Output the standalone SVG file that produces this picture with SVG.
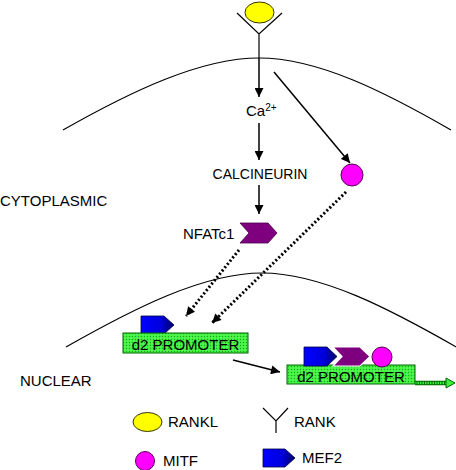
<svg xmlns="http://www.w3.org/2000/svg" width="456" height="470" viewBox="0 0 456 470">
<defs>
<style>
text{font-family:"Liberation Sans",Arial,sans-serif;font-size:15px;fill:#000}
.mem{fill:none;stroke:#000;stroke-width:1.2}
.arr{fill:none;stroke:#000;stroke-width:1.5;marker-end:url(#ah)}
.dot{fill:none;stroke:#000;stroke-width:3;stroke-dasharray:2 2.2;marker-end:url(#ah)}
.rankl{fill:#FFFF00;stroke:#333300;stroke-width:1}
.mitf{fill:#FF00FF;stroke:#550055;stroke-width:1}
.rank{fill:none;stroke:#000;stroke-width:1.2}
.nfat{fill:#7F007F;stroke:#4A004A;stroke-width:0.8}
.mef2{fill:url(#blue);stroke:#000044;stroke-width:0.8}
.prom{fill:url(#chk);stroke:#006600;stroke-width:1}
</style>
<marker id="ah" viewBox="0 0 10 10" refX="10" refY="5" markerWidth="10" markerHeight="9" markerUnits="userSpaceOnUse" orient="auto"><path d="M0,0 L10,5 L0,10 z" fill="#000"/></marker>
<linearGradient id="blue" x1="0" y1="0" x2="1" y2="0"><stop offset="0" stop-color="#0000FF"/><stop offset="0.6" stop-color="#0000DD"/><stop offset="1" stop-color="#000066"/></linearGradient>
<pattern id="chk" width="3" height="3" patternUnits="userSpaceOnUse"><rect width="3" height="3" fill="#3CF03C"/><rect width="1" height="1" fill="#1FA51F"/><rect x="1.5" y="1.5" width="1" height="1" fill="#8CFF8C"/></pattern>
</defs>
<rect width="456" height="470" fill="#fff"/>
<g id="membranes">
<path class="mem" d="M63,130 C130,92 200,58 259,58 C318,58 385,92 451,130"/>
<path class="mem" d="M66,347 C133,309 203,273 262,273 C321,273 390,309 458,348"/>
</g>
<g id="labels">
<text x="0" y="206">CYTOPLASMIC</text>
<text x="20" y="386">NUCLEAR</text>
</g>
<g id="connectors">
<line class="arr" x1="259" y1="58" x2="259" y2="97"/>
<line class="arr" x1="259" y1="123" x2="259" y2="160"/>
<line class="arr" x1="259" y1="185" x2="259" y2="214"/>
<line class="arr" x1="274" y1="72" x2="350" y2="163"/>
<line class="arr" x1="233" y1="360" x2="280" y2="372"/>
<line class="dot" x1="239" y1="250" x2="186" y2="316"/>
<line class="dot" x1="346" y1="192" x2="212" y2="323"/>
</g>
<g id="rankl"><ellipse class="rankl" cx="259.5" cy="12.5" rx="14.5" ry="10.5"/></g>
<g id="rank"><path class="rank" d="M237,13 L259,34 L282,13 M259,34 L259,58"/></g>
<g id="ca"><text x="246" y="116">Ca<tspan font-size="10" dy="-5">2+</tspan></text></g>
<g id="calcineurin"><text x="260" y="179" text-anchor="middle" style="font-size:14px">CALCINEURIN</text></g>
<g id="nfatc1">
<text x="183" y="239">NFATc1</text>
<polygon class="nfat" points="240,223 268,223 277,233 268,243 240,243 249,233"/>
</g>
<g id="mitf"><circle class="mitf" cx="352" cy="175" r="11"/></g>
<g id="promoter1">
<polygon class="mef2" points="141,316 164,316 174,325 164,334 141,334"/>
<rect class="prom" x="123" y="333" width="125" height="20"/>
<text x="185.5" y="350" text-anchor="middle">d2 PROMOTER</text>
</g>
<g id="promoter2">
<path d="M415,383 L448,383" stroke="#006600" stroke-width="4.5" fill="none"/>
<path d="M415,383 L448,383" stroke="#3CF03C" stroke-width="2.5" stroke-dasharray="1.5 1" fill="none"/>
<polygon points="446,378 455,383 446,388" fill="#3CF03C" stroke="#006600" stroke-width="1"/>
<rect class="prom" x="287" y="365" width="128" height="19"/>
<text x="351" y="382" text-anchor="middle">d2 PROMOTER</text>
<polygon class="mef2" points="304,347 327,347 337,356.5 327,366 304,366"/>
<polygon points="333,347 360,347 370,356.5 360,366 333,366 342,356.5" fill="#7F007F" stroke="#fff" stroke-width="1.2"/>
<circle class="mitf" cx="382" cy="357" r="10"/>
</g>
<g id="legend">
<ellipse class="rankl" cx="147.5" cy="422" rx="14.5" ry="9.5"/>
<text x="168" y="427">RANKL</text>
<path class="rank" d="M263,408 L276,421 L288,408 M276,421 L276,433"/>
<text x="294" y="427">RANK</text>
<circle class="mitf" cx="145" cy="461" r="9.5"/>
<text x="163" y="466">MITF</text>
<polygon class="mef2" points="263,449 285,449 295,458 285,467 263,467"/>
<text x="302" y="463">MEF2</text>
</g>
</svg>
